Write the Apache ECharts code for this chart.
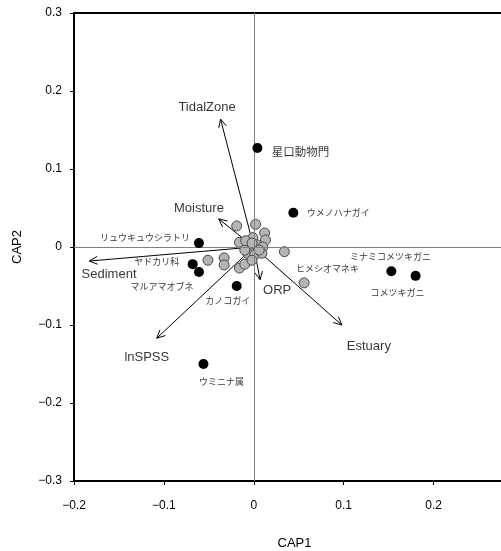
<!DOCTYPE html>
<html>
<head>
<meta charset="utf-8">
<script src="https://cdn.jsdelivr.net/npm/echarts@6/dist/echarts.min.js"></script>
<style>
  html, body { margin: 0; padding: 0; background: #fff; }
  #chart { width: 501px; height: 551px; }
</style>
</head>
<body>
<div id="chart"></div>
<script>
// CAP ordination: axis ranges (the plot runs off the right edge)
const xRange = [-0.2, 0.275];
const yRange = [-0.3, 0.3];
const tickStep = 0.1;

// Environmental vectors (CAP1, CAP2 tips) and label anchors
const vectorNames = ['TidalZone', 'Moisture', 'Sediment', 'lnSPSS', 'ORP', 'Estuary'];
const vectorX = [-0.037, -0.039, -0.183, -0.108, 0.007, 0.098];
const vectorY = [0.164, 0.036, -0.018, -0.117, -0.042, -0.100];
const vectorLabelX = [-0.052, -0.061, -0.161, -0.119, 0.026, 0.128];
const vectorLabelY = [0.179, 0.050, -0.035, -0.142, -0.056, -0.127];

// Indicator taxa (black points)
const taxaNames = ['星口動物門', 'ウメノハナガイ', 'ミナミコメツキガニ', 'コメツキガニ',
  'リュウキュウシラトリ', 'ヤドカリ科', 'マルアマオブネ', 'カノコガイ', 'ウミニナ属'];
const taxaX = [0.004, 0.044, 0.153, 0.180, -0.061, -0.068, -0.061, -0.019, -0.056];
const taxaY = [0.127, 0.044, -0.031, -0.037, 0.005, -0.022, -0.032, -0.050, -0.150];

// Other taxa (grey points)
const otherX = [-0.019, 0.002, 0.012, 0.013, -0.016, -0.001, -0.004, 0.003, 0.010, -0.007,
  0.001, -0.010, 0.009, -0.009, 0.006, -0.002, -0.051, -0.033, -0.033, -0.016,
  -0.010, -0.002, 0.034, 0.056];
const otherY = [0.027, 0.029, 0.018, 0.009, 0.006, 0.012, 0.000, 0.003, 0.000, -0.008,
  -0.010, -0.004, -0.008, 0.008, -0.004, 0.005, -0.017, -0.014, -0.023, -0.027,
  -0.022, -0.017, -0.006, -0.046];

// Taxon name labels and their anchors
const taxaLabelNames = ['星口動物門', 'ウメノハナガイ', 'ミナミコメツキガニ', 'コメツキガニ', 'ヒメシオマネキ',
  'リュウキュウシラトリ', 'ヤドカリ科', 'マルアマオブネ', 'カノコガイ', 'ウミニナ属'];
const taxaLabelX = [0.052, 0.094, 0.152, 0.160, 0.082, -0.121, -0.108, -0.102, -0.029, -0.036];
const taxaLabelY = [0.122, 0.044, -0.012, -0.058, -0.028, 0.012, -0.019, -0.051, -0.069, -0.172];

const latin = '"Liberation Sans", Arial, sans-serif';
const jp = '"Noto Sans CJK JP", "Liberation Sans", sans-serif';
const fmt = v => {
  const s = Math.abs(v) < 1e-9 ? '0' : (+v.toFixed(1)).toString();
  return s.replace('-', '\u2212');
};

const chart = echarts.init(document.getElementById('chart'), null, { renderer: 'canvas' });

const vectorData = vectorNames.map((n, i) => ({ name: n, value: [vectorX[i], vectorY[i]] }));
const vectorLabelData = vectorNames.map((n, i) => ({ name: n, value: [vectorLabelX[i], vectorLabelY[i]] }));
const taxaData = taxaNames.map((n, i) => ({ name: n, value: [taxaX[i], taxaY[i]] }));
const otherData = otherX.map((x, i) => [x, otherY[i]]);
// the phylum name is set in a larger type than the other taxon names
const taxaLabelData = taxaLabelNames.map((n, i) => {
  const item = { name: n, value: [taxaLabelX[i], taxaLabelY[i]] };
  if (n === '星口動物門') item.label = { fontSize: 11.5 };
  return item;
});

const axisLineStyle = { color: '#000', width: 2 };

chart.setOption({
  animation: false,
  backgroundColor: '#fff',
  grid: { left: 74, top: 13, bottom: 70, right: 0, outerBoundsMode: 'none', containLabel: false },
  xAxis: [
    {
      type: 'value', min: xRange[0], max: xRange[1], interval: tickStep,
      name: 'CAP1', nameLocation: 'middle', nameGap: 56,
      nameTextStyle: { fontFamily: latin, fontSize: 13, color: '#000', padding: [0, 0, 0, 14] },
      axisLine: { show: true, onZero: false, lineStyle: axisLineStyle },
      axisTick: { show: true, length: 4, lineStyle: { color: '#000', width: 1 } },
      axisLabel: { fontFamily: latin, fontSize: 12, color: '#000', margin: 19,
        formatter: fmt, showMaxLabel: false },
      splitLine: { show: false }
    },
    {
      // top frame edge
      type: 'value', position: 'top', min: xRange[0], max: xRange[1], interval: tickStep,
      axisLine: { show: true, onZero: false, lineStyle: axisLineStyle },
      axisTick: { show: false }, axisLabel: { show: false }, splitLine: { show: false }
    }
  ],
  yAxis: {
    type: 'value', min: yRange[0], max: yRange[1], interval: tickStep,
    name: 'CAP2', nameLocation: 'middle', nameGap: 50,
    nameTextStyle: { fontFamily: latin, fontSize: 13, color: '#000' },
    axisLine: { show: true, onZero: false, lineStyle: axisLineStyle },
    axisTick: { show: true, length: 4, lineStyle: { color: '#000', width: 1 } },
    axisLabel: { fontFamily: latin, fontSize: 12, color: '#000', margin: 12, formatter: fmt },
    splitLine: { show: false }
  },
  series: [
    {
      // zero reference lines
      type: 'scatter', data: [], silent: true, z: 1,
      markLine: {
        silent: true, symbol: ['none', 'none'], label: { show: false },
        lineStyle: { color: '#808080', width: 1, type: 'solid' },
        data: [{ xAxis: 0 }, { yAxis: 0 }]
      }
    },
    {
      // environmental vectors with open arrowheads
      type: 'custom', z: 2, silent: true, data: vectorData,
      renderItem: function (params, api) {
        const o = api.coord([0, 0]);
        const e = api.coord([api.value(0), api.value(1)]);
        const ang = Math.atan2(e[1] - o[1], e[0] - o[0]);
        const L = 9, A = Math.PI / 7;
        const p1 = [e[0] - L * Math.cos(ang - A), e[1] - L * Math.sin(ang - A)];
        const p2 = [e[0] - L * Math.cos(ang + A), e[1] - L * Math.sin(ang + A)];
        return {
          type: 'group',
          children: [
            { type: 'line', shape: { x1: o[0], y1: o[1], x2: e[0], y2: e[1] },
              style: { stroke: '#000', lineWidth: 1 } },
            { type: 'polyline', shape: { points: [p1, e, p2] },
              style: { stroke: '#000', lineWidth: 1, fill: null } }
          ]
        };
      }
    },
    {
      // vector names
      type: 'scatter', z: 3, silent: true, data: vectorLabelData,
      symbolSize: 1, itemStyle: { color: 'rgba(0,0,0,0)' },
      label: { show: true, position: 'inside', formatter: '{b}',
        fontFamily: latin, fontSize: 13, color: '#000' }
    },
    {
      type: 'scatter', z: 4, data: otherData, symbol: 'circle', symbolSize: 10,
      itemStyle: { color: '#b4b4b4', borderColor: '#4a4a4a', borderWidth: 1, opacity: 1 }
    },
    {
      type: 'scatter', z: 5, data: taxaData, symbol: 'circle', symbolSize: 10,
      itemStyle: { color: '#000', opacity: 1 }
    },
    {
      // taxon names
      type: 'scatter', z: 6, silent: true, data: taxaLabelData,
      symbolSize: 1, itemStyle: { color: 'rgba(0,0,0,0)' },
      label: { show: true, position: 'inside', formatter: '{b}',
        fontFamily: jp, fontSize: 9, color: '#000' },
      labelLayout: { hideOverlap: false }
    }
  ]
});
</script>
</body>
</html>
